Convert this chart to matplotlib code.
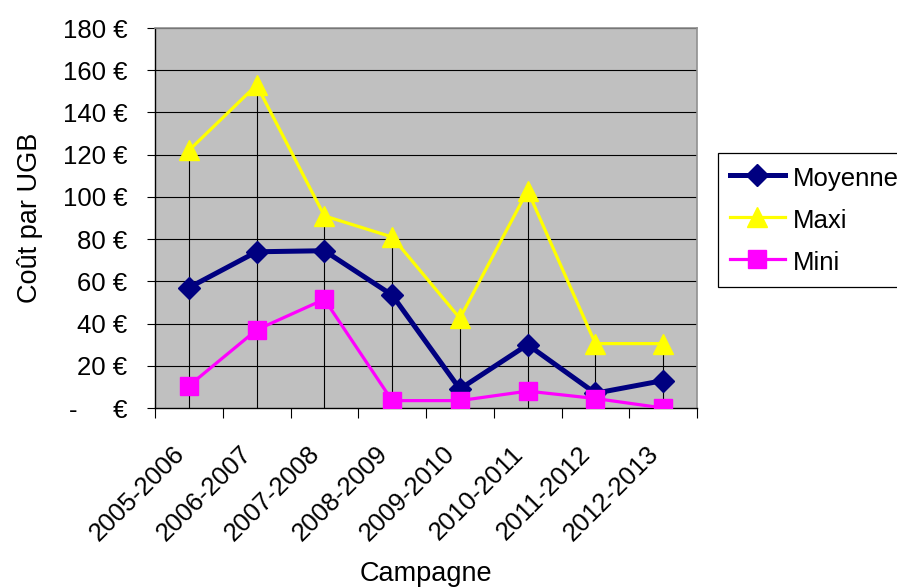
import matplotlib
matplotlib.use('Agg')
import matplotlib.pyplot as plt
import numpy as np

plt.rcParams['font.family'] = ['Liberation Sans', 'DejaVu Sans']

campagnes = ['2005-2006', '2006-2007', '2007-2008', '2008-2009',
             '2009-2010', '2010-2011', '2011-2012', '2012-2013']
moyenne = [57, 74, 74.5, 53.5, 9, 30, 7, 13]
maxi = [122, 153, 91, 81, 42.5, 103, 30.5, 30.5]
mini = [10.5, 37, 51.5, 3.5, 3.5, 8, 4.5, 0]
y_ticks = [0, 20, 40, 60, 80, 100, 120, 140, 160, 180]

fig = plt.figure(figsize=(8.97, 5.88), dpi=100)
ax = fig.add_axes([155 / 897, 1 - 408 / 588, 542 / 897, 380 / 588])
ax.set_facecolor('#c0c0c0')

x = np.arange(len(campagnes))

# horizontal grid + drop lines from the max series
for v in y_ticks[1:]:
    ax.axhline(v, color='black', lw=0.8, zorder=1)
ax.vlines(x, 0, maxi, color='black', lw=0.8, zorder=1)

ax.plot(x, moyenne, color='#000080', lw=3.6, marker='D', ms=11, label='Moyenne', zorder=3)
ax.plot(x, maxi, color='#ffff00', lw=2.3, marker='^', ms=14, label='Maxi', zorder=2)
ax.plot(x, mini, color='#ff00ff', lw=2.3, marker='s', ms=13, label='Mini', zorder=4)

ax.set_xlim(-0.5, len(campagnes) - 0.5)
ax.set_ylim(0, 180)

# tick marks on category boundaries, labels on centres
ax.set_xticks(np.arange(-0.5, len(campagnes)))
ax.set_xticklabels([])
ax.set_xticks(x, minor=True)
ax.set_xticklabels(campagnes, minor=True, rotation=45, ha='right', va='top',
                   fontsize=18.5)
ax.tick_params(axis='x', which='major', length=7, width=0.8, direction='out')
ax.tick_params(axis='x', which='minor', length=0, pad=24)

ax.set_yticks(y_ticks)
ax.set_yticklabels([f'{v} €' if v else '-     €' for v in y_ticks], fontsize=18.5)
ax.tick_params(axis='y', length=6, width=0.8, pad=14)

for s in ['left', 'bottom']:
    ax.spines[s].set_color('black')
    ax.spines[s].set_linewidth(1)
for s in ['top', 'right']:
    ax.spines[s].set_color('#909090')
    ax.spines[s].set_linewidth(1.2)

ax.set_xlabel('Campagne', fontsize=19.5, labelpad=11)
ax.set_ylabel('Coût par UGB', fontsize=19.5, labelpad=14)

leg = ax.legend(loc='upper left', bbox_to_anchor=(718 / 897, 1 - 153 / 588),
                bbox_transform=fig.transFigure, borderaxespad=0, fancybox=False,
                edgecolor='black', framealpha=1, fontsize=18.5, handlelength=2.15,
                handleheight=1.17, handletextpad=0.3, borderpad=0.45,
                labelspacing=0.6)
leg.get_frame().set_linewidth(0.9)

fig.savefig('out.png', dpi=100)
